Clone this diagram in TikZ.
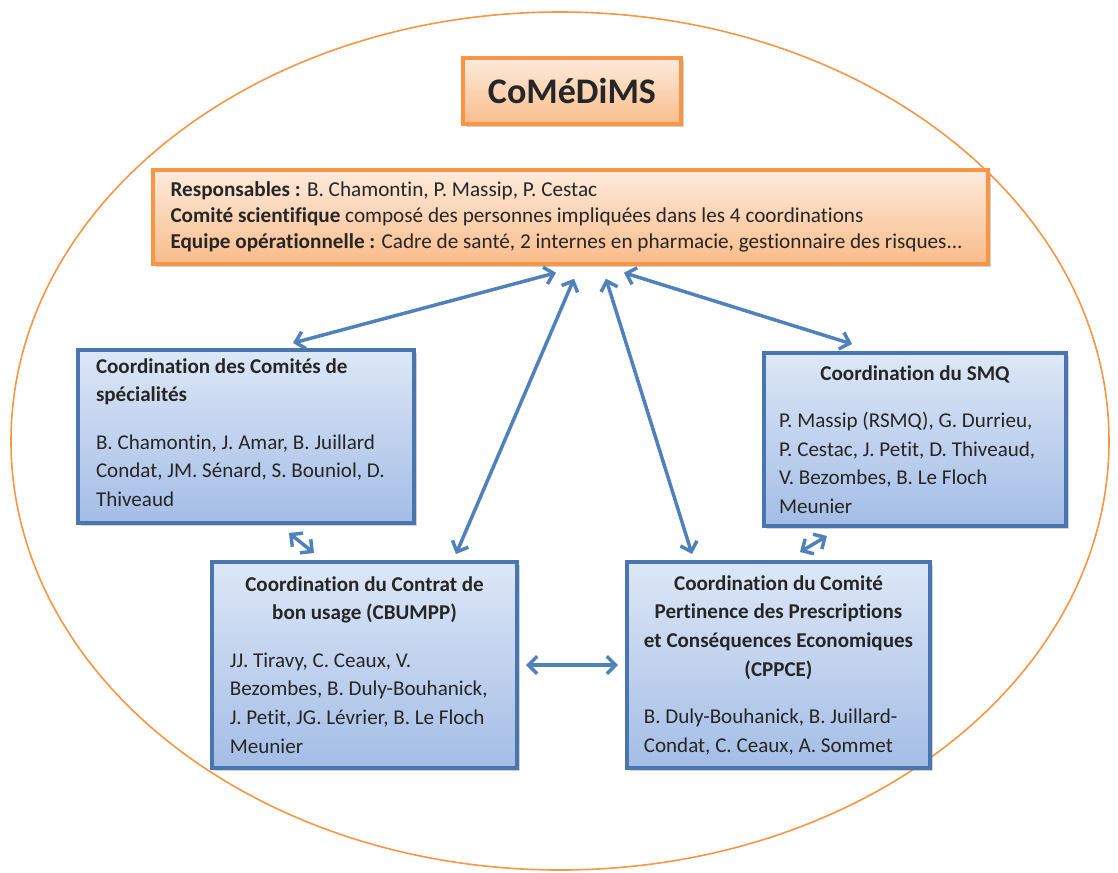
\documentclass[tikz,border=0pt]{standalone}
\usepackage{fontspec}
\setmainfont{Carlito}[Ligatures=NoCommon]
\usetikzlibrary{shadows,arrows.meta,calc}
\definecolor{oline}{HTML}{F79646}
\definecolor{otop}{HTML}{FDEBDC}
\definecolor{obot}{HTML}{F9BC8A}
\definecolor{bline}{HTML}{4A76B0}
\definecolor{btop}{HTML}{DDE7F6}
\definecolor{bbot}{HTML}{A4BDE6}
\definecolor{arr}{HTML}{4F81BD}
\definecolor{txt}{HTML}{262626}
\newcommand{\bluefont}{\fontsize{15.8}{21.5}\selectfont}
\newcommand{\orfont}{\fontsize{15.9}{19.3}\selectfont}
\tikzset{
  obox/.style={draw=oline, line width=2.6pt, top color=otop, bottom color=obot,
    drop shadow={shadow xshift=2pt, shadow yshift=-2.5pt, opacity=0.35}, inner sep=0pt, text=txt},
  bbox/.style={draw=bline, line width=3pt, top color=btop, bottom color=bbot,
    drop shadow={shadow xshift=2pt, shadow yshift=-2.5pt, opacity=0.35}, inner sep=0pt, text=txt},
  link/.style={draw=arr, line width=2.6pt,
    arrows={Straight Barb[length=6.5pt,width=13pt]-Straight Barb[length=6.5pt,width=13pt]}}
}
\begin{document}
\begin{tikzpicture}[x=0.75pt,y=-0.75pt]
\useasboundingbox (0,0) rectangle (1118,872);
\fill[white] (0,0) rectangle (1118,872);
\draw[oline, line width=1.2pt] (560,441) ellipse [x radius=549, y radius=429];

\node[obox, minimum width=163.5pt, minimum height=49.5pt] (title) at (572,91)
  {\fontsize{27}{30}\selectfont\bfseries CoMéDiMS};

\node[obox, minimum width=626.25pt, minimum height=70.5pt] (resp) at (570.5,217)
  {\parbox{600pt}{\orfont\raggedright
   \textbf{Responsables :} B. Chamontin, P. Massip, P. Cestac\\
   \textbf{Comité scientifique} composé des personnes impliquées dans les 4 coordinations\\
   \textbf{Equipe opérationnelle :} Cadre de santé, 2 internes en pharmacie, gestionnaire des risques...}};

\node[bbox, minimum width=252pt, minimum height=129.75pt] (spec) at (246,436.5)
  {\parbox{225pt}{\bluefont\raggedright\bfseries Coordination des Comités de\\ spécialités\par\vspace{14pt}
   \mdseries B. Chamontin, J. Amar, B. Juillard\\ Condat, JM. Sénard, S. Bouniol, D.\\ Thiveaud\vspace{6pt}}};

\node[bbox, minimum width=226.5pt, minimum height=129.75pt] (smq) at (915,439.5)
  {\parbox{204pt}{\bluefont\centering\bfseries Coordination du SMQ\par\vspace{14pt}
   \raggedright\mdseries P. Massip (RSMQ), G. Durrieu,\\ P. Cestac, J. Petit, D. Thiveaud,\\ V. Bezombes, B. Le Floch\\ Meunier}};

\node[bbox, minimum width=228.75pt, minimum height=154.5pt] (cbu) at (364.5,665)
  {\parbox{202pt}{\bluefont\centering\bfseries Coordination du Contrat de\\ bon usage (CBUMPP)\par\vspace{14pt}
   \raggedright\mdseries JJ. Tiravy, C. Ceaux, V.\\ Bezombes, B. Duly-Bouhanick,\\ J. Petit, JG. Lévrier, B. Le Floch\\ Meunier}};

\node[bbox, minimum width=227.25pt, minimum height=154.5pt] (cppce) at (778.5,665)
  {\parbox{202pt}{\bluefont\centering\bfseries Coordination du Comité\\ Pertinence des Prescriptions\\ et Conséquences Economiques\\ (CPPCE)\par\vspace{14pt}
   \raggedright\mdseries B. Duly-Bouhanick, B. Juillard-\\ Condat, C. Ceaux, A. Sommet}};

\draw[link] ($(spec.north)+(47,-5)$) -- ($(resp.south)+(-14.5,7)$);
\draw[link] ($(cbu.north)+(91.5,-6)$) -- ($(resp.south)+(3.5,13)$);
\draw[link] ($(cppce.north)+(-86.5,-6)$) -- ($(resp.south)+(35.5,13)$);
\draw[link] ($(smq.north)+(-63,-7)$) -- ($(resp.south)+(53.5,7)$);
\draw[link] ($(spec.south)+(43,8)$) -- ($(cbu.north)+(-50.5,-7)$);
\draw[link] ($(smq.south)+(-88,8)$) -- ($(cppce.north)+(21.5,-8)$);
\draw[link] ($(cbu.east)+(7,0)$) -- ($(cppce.west)+(-7,0)$);
\end{tikzpicture}
\end{document}
